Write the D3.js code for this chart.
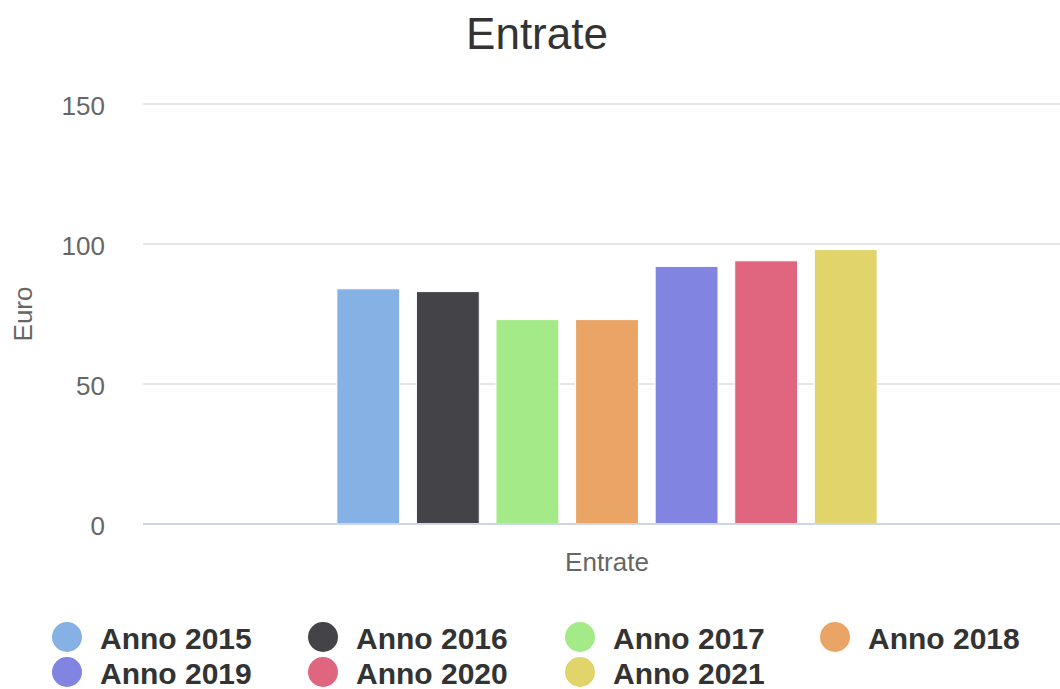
<!DOCTYPE html>
<html>

<head>
  <meta charset="UTF-8">
  <title>Entrate</title>
  <script src="https://d3js.org/d3.v7.min.js"></script>
  <style>
    body {
      margin: 0;
      background: #fff;
    }

    svg text {
      font-family: "Liberation Sans", Arial, Helvetica, sans-serif;
    }
  </style>
</head>

<body>
  <svg></svg>

  <script>
    // chart data
    const categories = ["Entrate"];
    const seriesNames = ["Anno 2015", "Anno 2016", "Anno 2017", "Anno 2018", "Anno 2019", "Anno 2020", "Anno 2021"];
    const seriesValues = [84, 83, 73, 73, 92, 94, 98];
    const seriesColors = ["#85b1e5", "#434348", "#a5ea88", "#eaa566", "#8184e0", "#e0657f", "#e0d46a"];
    const yTicks = [0, 50, 100, 150];

    let width = 1060,
      height = 689;

    let svg = d3.select("svg")
      .attr("width", width)
      .attr("height", height)
      .attr("viewBox", "0 0 " + width + " " + height);

    // plot area
    let plotLeft = 143, plotRight = 1071, plotTop = 104, plotBottom = 524;

    let y = d3.scaleLinear()
      .domain([0, 150])
      .range([plotBottom, plotTop]);

    let x0 = d3.scaleBand()
      .domain(categories)
      .range([plotLeft, plotRight])
      .paddingInner(0)
      .paddingOuter(0.333);

    let x1 = d3.scaleBand()
      .domain(seriesNames)
      .range([x0(categories[0]), x0(categories[0]) + x0.bandwidth()])
      .paddingInner(0.21)
      .paddingOuter(0.105);

    // grid lines
    svg.append("g")
      .selectAll("line")
      .data(yTicks.filter(d => d > 0))
      .enter()
      .append("line")
      .attr("x1", plotLeft)
      .attr("x2", width)
      .attr("y1", d => y(d))
      .attr("y2", d => y(d))
      .attr("stroke", "#e6e6e6")
      .attr("stroke-width", 2);

    // y tick labels
    svg.append("g")
      .selectAll("text")
      .data(yTicks)
      .enter()
      .append("text")
      .attr("x", 105)
      .attr("y", d => y(d) + 2)
      .attr("text-anchor", "end")
      .attr("dominant-baseline", "central")
      .attr("fill", "#666")
      .style("font-size", "26px")
      .text(d => d);

    // y axis title
    svg.append("text")
      .attr("transform", "translate(32," + ((plotTop + plotBottom) / 2) + ") rotate(-90)")
      .attr("text-anchor", "middle")
      .attr("fill", "#666")
      .style("font-size", "26px")
      .text("Euro");

    // bars
    svg.append("g")
      .selectAll("rect")
      .data(seriesNames.map((n, i) => ({ name: n, value: seriesValues[i], color: seriesColors[i] })))
      .enter()
      .append("rect")
      .attr("x", d => x1(d.name))
      .attr("width", x1.bandwidth())
      .attr("y", d => y(d.value))
      .attr("height", d => y(0) - y(d.value))
      .attr("fill", d => d.color)
      .attr("stroke", "#fff")
      .attr("stroke-width", 1);

    // x axis line
    svg.append("line")
      .attr("x1", plotLeft)
      .attr("x2", width)
      .attr("y1", y(0))
      .attr("y2", y(0))
      .attr("stroke", "#ccd6eb")
      .attr("stroke-width", 2);

    // x category label
    svg.append("g")
      .selectAll("text")
      .data(categories)
      .enter()
      .append("text")
      .attr("x", d => x0(d) + x0.bandwidth() / 2)
      .attr("y", 571)
      .attr("text-anchor", "middle")
      .attr("fill", "#666")
      .style("font-size", "26px")
      .text(d => d);

    // title
    svg.append("text")
      .attr("x", 537)
      .attr("y", 49)
      .attr("text-anchor", "middle")
      .attr("fill", "#333")
      .style("font-size", "44px")
      .text("Entrate");

    // legend
    let legendX = [67, 323, 580, 835];
    let legendY = [637, 672];

    let legend = svg.append("g")
      .selectAll("g")
      .data(seriesNames)
      .enter()
      .append("g")
      .attr("transform", (d, i) => "translate(" + legendX[i % 4] + "," + legendY[Math.floor(i / 4)] + ")");

    legend.append("circle")
      .attr("r", 15)
      .attr("fill", (d, i) => seriesColors[i]);

    legend.append("text")
      .attr("x", 33)
      .attr("y", 1)
      .attr("dominant-baseline", "central")
      .attr("fill", "#333")
      .style("font-size", "30px")
      .style("font-weight", "bold")
      .text(d => d);
  </script>

</body>

</html>
